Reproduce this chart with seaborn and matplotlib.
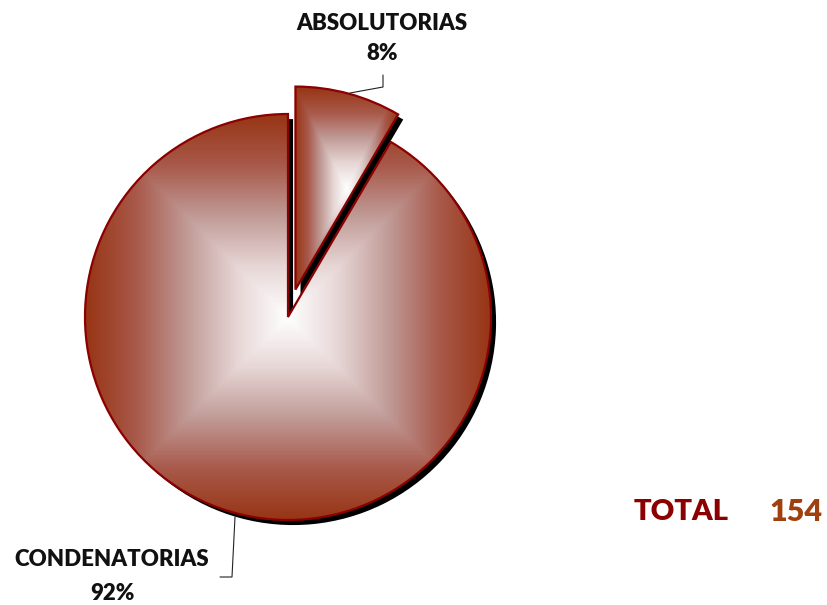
import numpy as np
import matplotlib
matplotlib.use("Agg")
import matplotlib.pyplot as plt
import seaborn as sns

# sentence counts
categories = ["ABSOLUTORIAS", "CONDENATORIAS"]
counts = [13, 141]
total = sum(counts)

sns.set_style("white")
plt.rcParams['font.family'] = ['Lato', 'DejaVu Sans']

# gradient from centre (white) to the brown edge
grad_cmap = sns.blend_palette(["#ffffff", "#e6d6d5", "#c09a96", "#a8594a", "#983515"], as_cmap=True)

fig = plt.figure(figsize=(8.27, 6.05), dpi=100)
ax = fig.add_axes([0, 0, 1, 1])
R_PX = 203.0
CX, CY = 288.0, 317.0

explode = [0.14, 0.0]

# shadow
shadow, _ = ax.pie(counts, startangle=90, counterclock=False, explode=explode,
                   colors=['black', 'black'], center=(0.025, -0.025),
                   wedgeprops=dict(linewidth=0), frame=True)
for w in shadow:
    w.set_zorder(1)

wedges, _ = ax.pie(counts, startangle=90, counterclock=False, explode=explode,
                   colors=['none', 'none'], frame=True,
                   wedgeprops=dict(edgecolor='#8B0000', linewidth=1.6))

for w in wedges:
    w.set_zorder(3)
    ext = w.get_path().get_extents()
    xs = np.linspace(-1, 1, 400)
    gx, gy = np.meshgrid(xs, xs)
    val = np.maximum(np.abs(gx), np.abs(gy))
    im = ax.imshow(val, cmap=grad_cmap, vmin=0, vmax=1, origin='lower',
                   extent=(ext.x0, ext.x1, ext.y0, ext.y1), zorder=2,
                   interpolation='bilinear')
    im.set_clip_path(w)

ax.set_xlim(-CX / R_PX, (827 - CX) / R_PX)
ax.set_ylim(-(605 - CY) / R_PX, CY / R_PX)
ax.set_aspect('equal')
ax.axis('off')

pcts = [f"{round(c / total * 100):.0f}%" for c in counts]

def px(x, y):
    return (x - CX) / R_PX, (CY - y) / R_PX

lab_kw = dict(ha='center', va='center', fontsize=16, fontweight='heavy',
              color='#111111', zorder=5)
ax.text(*px(382, 23), categories[0], **lab_kw)
ax.text(*px(382, 53), pcts[0], **lab_kw)
ax.text(*px(112, 560), categories[1], **lab_kw)
ax.text(*px(112, 593), pcts[1], **lab_kw)

# leader lines
l1 = np.array([px(383, 75), px(383, 87), px(350, 93)])
ax.plot(l1[:, 0], l1[:, 1], color='#222222', lw=0.8, zorder=5)
l2 = np.array([px(235, 517), px(232, 577), px(220, 577)])
ax.plot(l2[:, 0], l2[:, 1], color='#222222', lw=0.8, zorder=5)

ax.text(*px(681, 512), "TOTAL", ha='center', va='center', fontsize=21,
        fontweight='heavy', color='#8B0000')
ax.text(*px(796, 512), str(total), ha='center', va='center', fontsize=22,
        fontweight='heavy', color='#A0400F')

fig.savefig('out.png', dpi=100)
